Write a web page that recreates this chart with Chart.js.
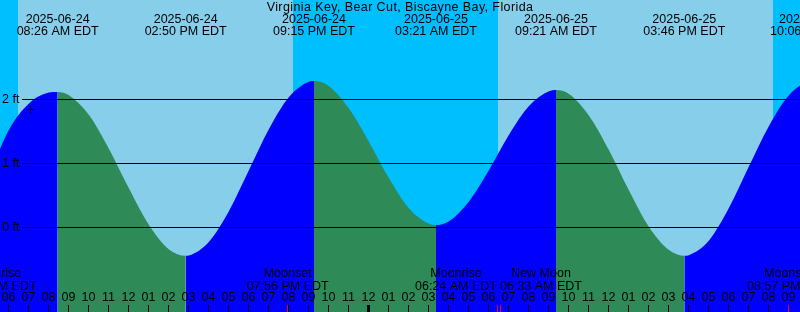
<!DOCTYPE html>
<html>
<head>
<meta charset="utf-8">
<script src="https://cdn.jsdelivr.net/npm/chart.js@4.4.1/dist/chart.umd.min.js"></script>
<style>
  html, body { margin: 0; padding: 0; background: #fff; }
  #wrap { width: 800px; height: 312px; }
</style>
</head>
<body>
<div id="wrap"><canvas id="tide" width="800" height="312"></canvas></div>
<script>
// all times are hours since 2025-06-24 00:00 EDT
const title = 'Virginia Key, Bear Cut, Biscayne Bay, Florida';
const viewStart = 5.55, viewEnd = 45.55;
const feetMin = -1.328, feetMax = 3.547;
const feetLines = [0, 1, 2];

// tide curve (hourly + turning points)
const tideHours = [5, 6, 7, 8, 8.433, 9, 10, 11, 12, 13, 14, 14.833, 15, 16, 17, 18, 19, 20, 21, 21.25,
  22, 23, 24, 25, 26, 27, 27.35, 28, 29, 30, 31, 32, 33, 33.35, 34, 35, 36, 37, 38, 39, 39.767,
  40, 41, 42, 43, 44, 45, 46, 46.1];
const tideFeet = [0.80, 1.52, 1.93, 2.10, 2.11, 2.06, 1.75, 1.22, 0.60, 0.03, -0.35, -0.45, -0.445, -0.23, 0.25, 0.89, 1.53, 2.03, 2.27, 2.28,
  2.20, 1.85, 1.33, 0.76, 0.29, 0.05, 0.03, 0.09, 0.40, 0.89, 1.44, 1.89, 2.12, 2.14, 2.08, 1.74, 1.20, 0.57, 0.00, -0.36, -0.45,
  -0.44, -0.21, 0.30, 0.95, 1.58, 2.06, 2.25, 2.25];

// high / low tide labels along the top
const extremeHours = [8.433, 14.833, 21.25, 27.35, 33.35, 39.767, 46.1];
const extremeDates = ['2025-06-24', '2025-06-24', '2025-06-24', '2025-06-25', '2025-06-25', '2025-06-25', '2025-06-25'];
const extremeTimes = ['08:26 AM EDT', '02:50 PM EDT', '09:15 PM EDT', '03:21 AM EDT', '09:21 AM EDT', '03:46 PM EDT', '10:06 PM EDT'];

// night = sunset .. sunrise
const sunsetHours = [-3.8, 20.2, 44.2];
const sunriseHours = [6.45, 30.45, 54.45];

// moon events along the bottom
const moonHours = [5.33, 19.933, 30.4, 30.55, 44.95];
const moonNames = ['Moonrise', 'Moonset', 'Moonrise', 'New Moon', 'Moonset'];
const moonTimes = ['05:20 AM EDT', '07:56 PM EDT', '06:24 AM EDT', '06:33 AM EDT', '08:57 PM EDT'];
const moonAlign = ['center', 'center', 'right', 'left', 'center'];

// the "+" mark
const markHour = 7.075, markFeet = 1.836;

const colors = {
  day: '#87ceeb',
  night: '#00bfff',
  rising: '#0000ff',
  falling: '#2e8b57',
  text: '#000000',
  event: '#ff0000'
};
const font = '12.5px "Liberation Sans", Arial, sans-serif';

const decorations = {
  id: 'decorations',
  beforeDatasetsDraw(chart) {
    const { ctx, chartArea: a, scales: { x } } = chart;
    ctx.save();
    ctx.fillStyle = colors.day;
    ctx.fillRect(a.left, a.top, a.width, a.height);
    ctx.fillStyle = colors.night;
    sunsetHours.forEach((s, i) => {
      const x0 = Math.max(a.left, Math.round(x.getPixelForValue(s)));
      const x1 = Math.min(a.right, Math.round(x.getPixelForValue(sunriseHours[i])));
      if (x1 > x0) ctx.fillRect(x0, a.top, x1 - x0, a.height);
    });
    ctx.restore();
  },
  afterDatasetsDraw(chart) {
    const { ctx, chartArea: a, scales: { x, y } } = chart;
    ctx.save();
    ctx.font = font;
    ctx.fillStyle = colors.text;
    ctx.strokeStyle = colors.text;
    ctx.lineWidth = 1;

    // depth lines and labels
    feetLines.forEach(v => {
      const py = Math.round(y.getPixelForValue(v)) + 0.5;
      ctx.beginPath();
      ctx.moveTo(22, py);
      ctx.lineTo(a.right, py);
      ctx.stroke();
      ctx.textAlign = 'left';
      ctx.textBaseline = 'middle';
      ctx.fillText(v + ' ft', 2, py);
    });

    // title + tide times
    ctx.textAlign = 'center';
    ctx.textBaseline = 'middle';
    ctx.letterSpacing = '0.4px';
    ctx.fillText(title, 400, 7.5);
    ctx.letterSpacing = '0px';
    extremeHours.forEach((h, i) => {
      const px = x.getPixelForValue(h);
      ctx.fillText(extremeDates[i], px, 19.5);
      ctx.fillText(extremeTimes[i], px, 31.5);
    });

    // hour ticks and labels
    for (let h = Math.floor(viewStart); h <= Math.ceil(viewEnd); h++) {
      const px = Math.floor(x.getPixelForValue(h) - 0.5) + 0.5;
      const hr = h % 12 === 0 ? 12 : h % 12;
      ctx.fillText(String(hr).padStart(2, '0'), px, 297.5);
      if (h % 24 === 0) {
        ctx.fillRect(px - 1.5, 305, 3, 7);
      } else {
        ctx.beginPath();
        ctx.moveTo(px, 305);
        ctx.lineTo(px, 312);
        ctx.stroke();
      }
    }

    // moon events
    moonHours.forEach((h, i) => {
      const px = x.getPixelForValue(h);
      const w = ctx.measureText(moonTimes[i]).width;
      let cx = px;
      if (moonAlign[i] === 'right') cx = px - w / 2;
      if (moonAlign[i] === 'left') cx = px + w / 2;
      ctx.fillStyle = colors.text;
      ctx.fillText(moonNames[i], cx, 273.5);
      ctx.fillText(moonTimes[i], cx, 286.5);
      ctx.fillStyle = colors.event;
      ctx.fillRect(Math.floor(px), 305, 1, 7);
    });
    ctx.restore();
  }
};

new Chart(document.getElementById('tide'), {
  type: 'line',
  data: {
    datasets: [
      {
        data: tideHours.map((h, i) => ({ x: h, y: tideFeet[i] })),
        order: 1,
        fill: 'start',
        borderWidth: 0,
        borderColor: 'rgba(0,0,0,0)',
        backgroundColor: colors.rising,
        pointRadius: 0,
        cubicInterpolationMode: 'monotone',
        segment: {
          backgroundColor: c => c.p1.parsed.y >= c.p0.parsed.y ? colors.rising : colors.falling
        }
      },
      {
        data: [{ x: markHour, y: markFeet }],
        order: 0,
        showLine: false,
        pointStyle: 'cross',
        pointRadius: 4,
        borderColor: colors.text,
        borderWidth: 1
      }
    ]
  },
  options: {
    responsive: false,
    animation: false,
    events: [],
    layout: { padding: 0, autoPadding: false },
    plugins: { legend: { display: false }, tooltip: { enabled: false } },
    scales: {
      x: { type: 'linear', min: viewStart, max: viewEnd, display: false },
      y: { min: feetMin, max: feetMax, display: false }
    }
  },
  plugins: [decorations]
});
</script>
</body>
</html>
